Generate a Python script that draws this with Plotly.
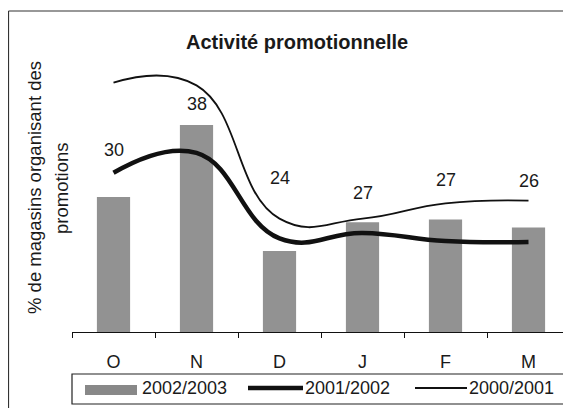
import plotly.graph_objects as go

# ---- data ----
categories = ["O", "N", "D", "J", "F", "M"]
series_names = ["2002/2003", "2001/2002", "2000/2001"]
bars_2002_2003 = [30, 38, 24, 27.2, 27.5, 26.6]
line_2001_2002 = [32.7, 34.9, 25.4, 26.0, 25.1, 25.0]
line_2000_2001 = [42.7, 42.4, 27.6, 27.6, 29.3, 29.6]
label_text = ["30", "38", "24", "27", "27", "26"]
label_y = [35.2, 40.3, 32.1, 30.4, 31.9, 31.8]

title_text = "Activité promotionnelle"
ytitle_lines = ["% de magasins organisant des", "promotions"]

FONT = "Liberation Sans, Arial, sans-serif"
INK = "#1a1a1a"

# page body has an 8px margin: figure is placed at (8, 8) in the window
OFF = 8
W, H = 571 - OFF, 408 - OFF
PLOT_L, PLOT_R, PLOT_T, PLOT_B = 72, 570, 62, 332  # window pixels
ML, MR = PLOT_L - OFF, W - (PLOT_R - OFF)
MT, MB = PLOT_T - OFF, H - (PLOT_B - OFF)
PW, PH = PLOT_R - PLOT_L, PLOT_B - PLOT_T


def px(x):
    return (x - PLOT_L) / PW


def py(y):
    return (PLOT_B - y) / PH


fig = go.Figure()

fig.add_trace(go.Bar(
    x=categories, y=bars_2002_2003, name=series_names[0], width=0.4,
    marker=dict(color="#888888", line=dict(width=0),
                pattern=dict(shape=".", fgcolor="#505050", bgcolor="#a4a4a4",
                             size=2, solidity=0.5)),
    showlegend=False,
))
fig.add_trace(go.Scatter(
    x=categories, y=line_2001_2002, name=series_names[1], mode="lines",
    line=dict(color="#111111", width=4.5, shape="spline", smoothing=1.25),
    showlegend=False,
))
fig.add_trace(go.Scatter(
    x=categories, y=line_2000_2001, name=series_names[2], mode="lines",
    line=dict(color="#111111", width=1.8, shape="spline", smoothing=1.3),
    showlegend=False,
))

annotations = []
for c, t, yv in zip(categories, label_text, label_y):
    annotations.append(dict(x=c, y=yv, xref="x", yref="y", text=t, showarrow=False,
                            font=dict(family=FONT, size=18, color=INK)))

# title
annotations.append(dict(x=px(297), y=py(42), xref="paper", yref="paper",
                        text="<b>" + title_text + "</b>", showarrow=False,
                        xanchor="center", yanchor="middle",
                        font=dict(family=FONT, size=20, color=INK)))
# y axis title (two lines)
annotations.append(dict(x=px(34), y=py(188), xref="paper", yref="paper",
                        text=ytitle_lines[0], textangle=-90, showarrow=False,
                        xanchor="center", yanchor="middle",
                        font=dict(family=FONT, size=18.5, color=INK)))
annotations.append(dict(x=px(61), y=py(188), xref="paper", yref="paper",
                        text=ytitle_lines[1], textangle=-90, showarrow=False,
                        xanchor="center", yanchor="middle",
                        font=dict(family=FONT, size=18.5, color=INK)))

# custom legend
leg_y = 388
text_x = [140, 303, 467]
for name, tx in zip(series_names, text_x):
    annotations.append(dict(x=px(tx), y=py(leg_y), xref="paper", yref="paper",
                            text=name, showarrow=False, xanchor="left", yanchor="middle",
                            font=dict(family=FONT, size=18, color=INK)))

shapes = [
    # outer frame (cropped at right/bottom)
    dict(type="line", xref="paper", yref="paper", x0=px(8.5), x1=px(8.5), y0=py(420), y1=py(11),
         line=dict(color="#333333", width=1.2)),
    dict(type="line", xref="paper", yref="paper", x0=px(8.5), x1=px(600), y0=py(11), y1=py(11),
         line=dict(color="#333333", width=1.2)),
    # legend box
    dict(type="rect", xref="paper", yref="paper", x0=px(72), x1=px(565), y0=py(404), y1=py(374),
         line=dict(color="#222222", width=1.2), fillcolor="rgba(0,0,0,0)"),
    # legend swatches
    dict(type="rect", xref="paper", yref="paper", x0=px(85), x1=px(137), y0=py(395), y1=py(385),
         line=dict(width=0), fillcolor="#888888"),
    dict(type="line", xref="paper", yref="paper", x0=px(248), x1=px(303), y0=py(leg_y), y1=py(leg_y),
         line=dict(color="#111111", width=4.5)),
    dict(type="line", xref="paper", yref="paper", x0=px(415), x1=px(467), y0=py(leg_y), y1=py(leg_y),
         line=dict(color="#111111", width=1.8)),
]

fig.update_layout(
    width=W, height=H,
    margin=dict(l=ML, r=MR, t=MT, b=MB, pad=0),
    paper_bgcolor="white", plot_bgcolor="white",
    font=dict(family=FONT, size=18, color=INK),
    showlegend=False,
    annotations=annotations,
    shapes=shapes,
    xaxis=dict(type="category", range=[-0.5, 5.5], showline=True, linecolor="#111111",
               linewidth=1.2, ticks="outside", ticklen=5, tickcolor="#111111", tickwidth=1.2,
               tickson="boundaries", showgrid=False, zeroline=False,
               tickfont=dict(family=FONT, size=18, color=INK), ticklabelstandoff=13),
    yaxis=dict(range=[15, 45], visible=False, showgrid=False, zeroline=False),
)

fig.write_html("out.html")
